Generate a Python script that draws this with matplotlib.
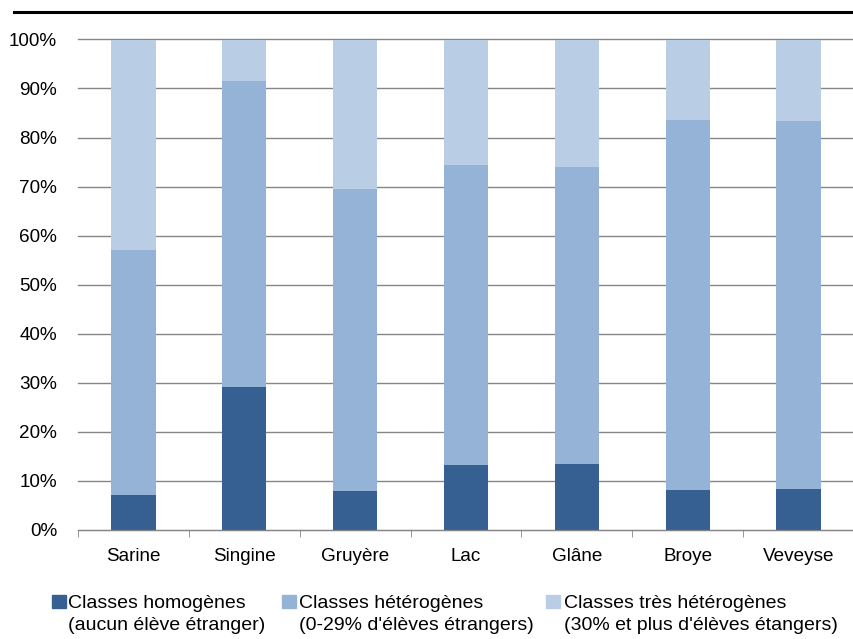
import matplotlib
matplotlib.use("Agg")
import matplotlib.pyplot as plt
import numpy as np
from matplotlib.lines import Line2D
from matplotlib.patches import Rectangle

plt.rcParams["font.family"] = ["Liberation Sans", "DejaVu Sans"]

districts = ["Sarine", "Singine", "Gruyère", "Lac", "Glâne", "Broye", "Veveyse"]
homogenes = [7.0, 29.0, 7.8, 13.2, 13.4, 8.1, 8.3]
heterogenes = [50.0, 62.5, 61.6, 61.2, 60.5, 75.4, 75.0]
tres_heterogenes = [43.0, 8.5, 30.6, 25.6, 26.1, 16.5, 16.7]

series_labels = [
    "Classes homogènes\n(aucun élève étranger)",
    "Classes hétérogènes\n(0-29% d'élèves étrangers)",
    "Classes très hétérogènes\n(30% et plus d'élèves étangers)",
]
colors = ["#376092", "#95b3d7", "#b9cde5"]
fs = 13.6

fig = plt.figure(figsize=(8.54, 6.39), dpi=100)
ax = fig.add_axes([78 / 854, 1 - 529.5 / 639, 1 - 78 / 854, (529.5 - 39.5) / 639])

x = np.arange(len(districts))
bottom = np.zeros(len(districts))
for values, color in zip([homogenes, heterogenes, tres_heterogenes], colors):
    ax.bar(x, values, width=0.4, bottom=bottom, color=color, zorder=2)
    bottom += np.array(values)

ax.set_ylim(0, 100)
ax.set_xlim(-0.5, -0.5 + 776 / 112)
ax.set_yticks(np.arange(0, 101, 10))
ax.set_yticklabels([f"{v}%" for v in range(0, 101, 10)])
ax.yaxis.grid(True, color="#868686", linewidth=1.0, zorder=0)
for gl in ax.get_ygridlines():
    gl.set_clip_on(False)
ax.set_axisbelow(True)

ax.set_xticks(x)
ax.set_xticklabels(districts)
ax.set_xticks(np.append([-0.5], np.arange(len(districts)) + 0.5), minor=True)
ax.tick_params(axis="x", which="major", length=0, pad=13, labelsize=fs)
ax.tick_params(axis="x", which="minor", length=5, color="#868686", direction="out")
ax.tick_params(axis="y", length=0, pad=15, labelsize=fs)

for side in ["top", "right", "left"]:
    ax.spines[side].set_visible(False)
ax.spines["bottom"].set_color("#868686")

fig.add_artist(Line2D([14 / 854, 1.0], [1 - 11.5 / 639, 1 - 11.5 / 639],
                      color="black", linewidth=2.2, transform=fig.transFigure))

square_x = [52, 282, 546]
text_x = [68, 299, 564]
for label, color, sx, tx in zip(series_labels, colors, square_x, text_x):
    fig.add_artist(Rectangle((sx / 854, 1 - 608 / 639), 14 / 854, 13 / 639,
                             color=color, transform=fig.transFigure))
    fig.text(tx / 854, 1 - 614.5 / 639, label, fontsize=14, va="center",
             ha="left", linespacing=1.4, transform=fig.transFigure)

fig.savefig("out.png", dpi=100)
